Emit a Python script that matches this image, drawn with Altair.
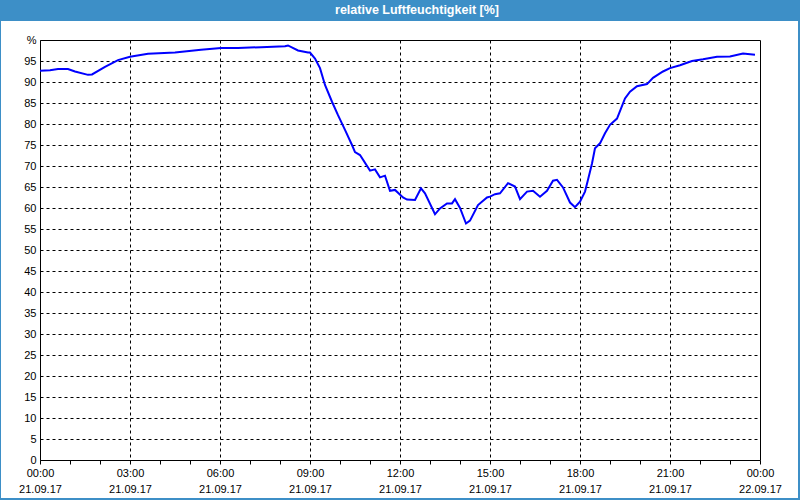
import altair as alt
import pandas as pd

# time of day (21.09.17) and relative humidity in %
times = ["00:00","00:20","00:36","00:56","01:10","01:36","01:44","02:10","02:36","03:00",
         "03:36","04:30","05:22","06:02","06:36","07:22","08:10","08:16","08:36","08:56",
         "09:00","09:10","09:20","09:30","09:44","09:56","10:10","10:24","10:30","10:40",
         "11:00","11:10","11:20","11:30","11:40","11:50","12:06","12:14","12:30","12:42",
         "12:50","13:10","13:20","13:34","13:44","13:50","14:00","14:12","14:20","14:36",
         "14:54","15:00","15:10","15:20","15:36","15:50","16:00","16:14","16:26","16:40",
         "16:54","17:06","17:14","17:26","17:40","17:50","18:00","18:10","18:16","18:24",
         "18:30","18:40","18:50","19:00","19:14","19:30","19:40","19:54","20:14","20:26",
         "20:46","21:00","21:20","21:44","22:06","22:34","23:00","23:26","23:50"]
humidity = [92.7,92.8,93.1,93.1,92.5,91.7,91.8,93.6,95.2,96.0,
            96.7,97.0,97.7,98.1,98.1,98.3,98.5,98.7,97.5,97.0,
            97.0,95.6,93.3,89.3,85.3,82.1,78.6,75.0,73.3,72.6,
            68.9,69.2,67.3,67.7,64.1,64.3,62.5,62.0,61.9,64.7,
            63.5,58.5,59.9,61.1,61.1,62.1,60.0,56.3,57.0,60.7,
            62.5,62.7,63.3,63.5,65.9,65.1,62.1,63.9,64.1,62.7,
            64.1,66.5,66.7,64.9,61.3,60.2,61.5,63.9,66.7,70.6,
            74.2,75.4,77.8,79.8,81.3,86.1,87.7,89.0,89.5,91.0,
            92.5,93.3,94.0,95.0,95.4,96.0,96.1,96.8,96.5]

hour_labels = ["00:00","03:00","06:00","09:00","12:00","15:00","18:00","21:00","00:00"]
date_labels = ["21.09.17"] * 8 + ["22.09.17"]
title_text = "relative Luftfeuchtigkeit [%]"

hours = [int(t[:2]) + int(t[3:]) / 60 for t in times]
df = pd.DataFrame({"h": hours, "rh": humidity})

FONT = "Liberation Sans"
BLUE = "#3d8fc7"

hl = "[" + ",".join("'" + s + "'" for s in hour_labels) + "]"
dl = "[" + ",".join("'" + s + "'" for s in date_labels) + "]"
x_expr = ("datum.value % 3 == 0 ? [" + hl + "[datum.value/3], " + dl +
          "[datum.value/3]] : ''")

x_axis = alt.Axis(
    values=list(range(0, 25)),
    labelExpr=x_expr,
    labelOverlap=False,
    labelFlush=False,
    labelFont=FONT, labelFontSize=11, labelColor="black",
    labelLineHeight=16, labelPadding=3,
    tickSize=4, tickColor="black",
    domain=False,
    grid=True, gridColor="black", gridDash=[3, 3], gridWidth=1,
    gridOpacity={"condition": {"test": "datum.value % 3 == 0 && datum.value > 0 && datum.value < 24", "value": 1}, "value": 0},
    title=None,
)
y_axis = alt.Axis(
    values=list(range(0, 101, 5)),
    labelExpr="datum.value == 100 ? '%' : datum.label",
    labelFont=FONT, labelFontSize=11, labelColor="black",
    labelPadding=4, ticks=False, domain=False,
    grid=True, gridColor="black", gridDash=[3, 3], gridWidth=1,
    title=None,
)

line = alt.Chart(df).mark_line(color="#0000ff", strokeWidth=2).encode(
    x=alt.X("h:Q", scale=alt.Scale(domain=[0, 24], nice=False), axis=x_axis),
    y=alt.Y("rh:Q", scale=alt.Scale(domain=[0, 100], nice=False), axis=y_axis),
)

base = alt.Chart(pd.DataFrame({"a": [0]}))
title_bar = base.mark_rect(color=BLUE).encode(
    x=alt.value(-40), x2=alt.value(760), y=alt.value(-40), y2=alt.value(-19))
left_b = base.mark_rect(color=BLUE).encode(
    x=alt.value(-40), x2=alt.value(-39), y=alt.value(-40), y2=alt.value(460))
right_b = base.mark_rect(color=BLUE).encode(
    x=alt.value(758), x2=alt.value(760), y=alt.value(-40), y2=alt.value(460))
bottom_b = base.mark_rect(color=BLUE).encode(
    x=alt.value(-40), x2=alt.value(760), y=alt.value(458), y2=alt.value(460))
title = base.mark_text(color="white", font=FONT, fontSize=12.5, fontWeight="bold",
                       align="center", baseline="middle").encode(
    x=alt.value(377), y=alt.value(-30), text=alt.value(title_text))

chart = alt.layer(line, title_bar, left_b, right_b, bottom_b, title).properties(
    width=720, height=420,
    autosize=alt.AutoSizeParams(type="none"),
    padding={"left": 40, "top": 40, "right": 40, "bottom": 40},
    background="white",
).configure_view(stroke="black", strokeWidth=1)

chart.save("out.html", embed_options={"renderer": "svg", "actions": False})
